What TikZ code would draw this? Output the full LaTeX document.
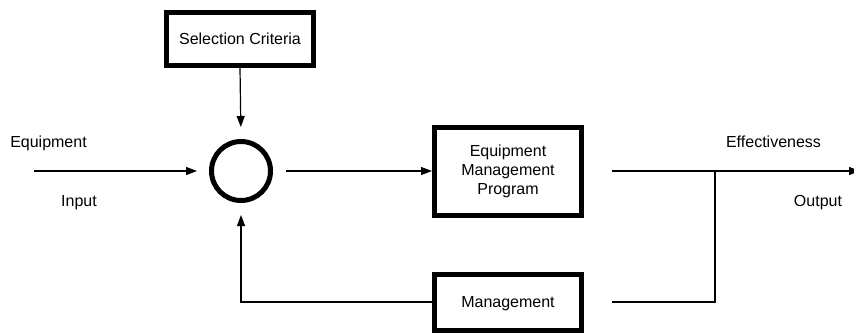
\documentclass[tikz,border=0pt]{standalone}
\usepackage{fontspec}
\setmainfont{Liberation Sans}
\usetikzlibrary{arrows.meta}
\begin{document}
\begin{tikzpicture}[x=1pt,y=-1pt,
  every node/.style={font=\fontsize{16}{19}\selectfont},
  blockbox/.style={draw, line width=5pt, inner sep=0pt, minimum width=147pt, align=center},
  ring/.style={draw, circle, line width=5pt, inner sep=0pt, minimum size=59pt},
  conn/.style={line width=1.2pt},
  arr/.style={conn, -{Triangle[length=11pt,width=8pt]}},
  lbl/.style={anchor=base, inner sep=0pt}]
\useasboundingbox (0,0) rectangle (854,333);
\node[blockbox, minimum height=53pt, text depth=0pt] (sc) at (240,39) {Selection Criteria};
\node[ring] (circ) at (241,171) {};
\node[blockbox, minimum height=88pt] (emp) at (508,171) {Equipment\\Management\\Program};
\node[blockbox, minimum height=56pt, text depth=0pt] (mg) at (508,302) {Management};
\coordinate (inL) at (34,171);
\coordinate (outR) at (860,171);
\coordinate (j) at (715,171);
\node[lbl] (eqlbl) at (48.5,147) {Equipment};
\node[lbl] (inlbl) at (79,206) {Input};
\node[lbl] (eflbl) at (773.5,147) {Effectiveness};
\node[lbl] (outlbl) at (818,206) {Output};
\draw[arr, shorten >=12pt] (sc.south) -- (circ.north);
\draw[arr, shorten >=12pt] (inL) -- (circ.west);
\draw[arr, shorten <=13pt] (circ.east) -- (emp.west);
\draw[arr, shorten <=28pt] (emp.east) -- (outR);
\draw[conn, shorten <=28pt] (mg.east) -| (j);
\draw[arr, shorten >=12pt] (mg.west) -| (circ.south);
\end{tikzpicture}
\end{document}
